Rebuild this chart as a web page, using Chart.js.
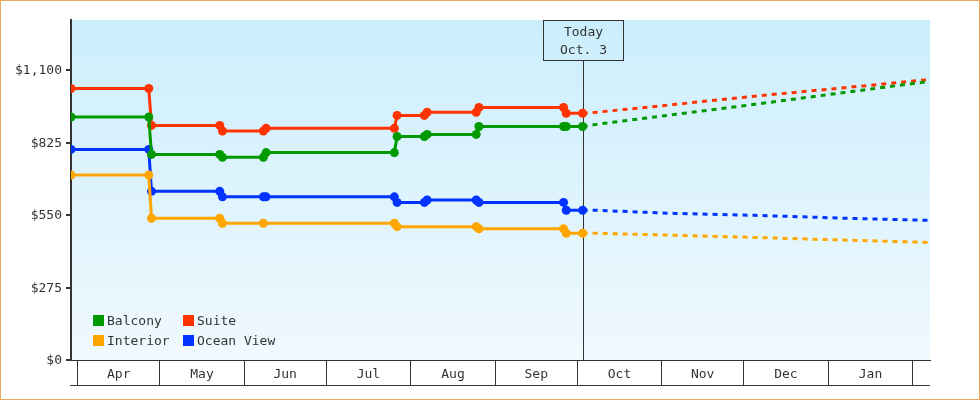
<!DOCTYPE html>
<html>
<head>
<meta charset="utf-8">
<title>Cabin fares</title>
<script src="https://cdn.jsdelivr.net/npm/chart.js@4.4.1/dist/chart.umd.min.js"></script>
<style>
html, body { margin: 0; padding: 0; background: #fff; }
#wrap { width: 980px; height: 400px; }
</style>
</head>
<body>
<div id="wrap"><canvas id="fareChart" width="980" height="400"></canvas></div>
<script>
// x values are days counted from Apr 1
var monthNames = ['Apr', 'May', 'Jun', 'Jul', 'Aug', 'Sep', 'Oct', 'Nov', 'Dec', 'Jan'];
var monthStarts = [0, 30, 61, 91, 122, 153, 183, 214, 244, 275, 306];
var yTicks = [0, 275, 550, 825, 1100];
var today = 185;
var todayLabel = ['Today', 'Oct. 3'];

// price history (solid part)
var balconyDays   = [-2.5, 26, 27, 52, 53, 68, 69, 116, 117, 127, 128, 146, 147, 178, 179, 185];
var balconyPrices = [922, 922, 780, 780, 769, 769, 787, 787, 848, 848, 856, 856, 886, 886, 886, 886];

var suiteDays   = [-2.5, 26, 27, 52, 53, 68, 69, 116, 117, 127, 128, 146, 147, 178, 179, 185];
var suitePrices = [1030, 1030, 890, 890, 869, 869, 879, 879, 928, 928, 940, 940, 958, 958, 936, 936];

var interiorDays   = [-2.5, 26, 27, 52, 53, 68, 116, 117, 146, 147, 178, 179, 185];
var interiorPrices = [702, 702, 538, 538, 519, 519, 519, 506, 506, 498, 498, 481, 481];

var oceanDays   = [-2.5, 26, 27, 52, 53, 68, 69, 116, 117, 127, 128, 146, 147, 178, 179, 185];
var oceanPrices = [799, 799, 640, 640, 619, 619, 619, 619, 598, 598, 607, 607, 598, 598, 568, 568];

// forecast (dotted part)
var forecastDays     = [185, 190, 219, 248, 281, 312];
var balconyForecast  = [886, 894, 932, 970, 1015, 1057];
var suiteForecast    = [936, 940, 970, 1001, 1033, 1064];
var interiorForecast = [481, 481, 473, 465, 455, 446];
var oceanForecast    = [568, 568, 556, 549, 538, 530];

var xMin = -2.5, xMax = 312.3;

var monthCenters = [];
for (var i = 0; i < monthNames.length; i++) {
	monthCenters.push((monthStarts[i] + monthStarts[i + 1]) / 2);
}

function toPoints(days, vals) {
	var pts = [];
	for (var i = 0; i < days.length; i++) pts.push({ x: days[i], y: vals[i] });
	return pts;
}

function makeSet(label, color, days, vals, fvals) {
	return {
		label: label,
		data: toPoints(days, vals).concat(toPoints(forecastDays.slice(1), fvals.slice(1))),
		borderColor: color,
		backgroundColor: color,
		borderWidth: 3,
		tension: 0,
		pointBorderWidth: 0,
		pointHoverRadius: 0,
		pointRadius: function(ctx) { return ctx.raw && ctx.raw.x <= today ? 4.5 : 0; },
		segment: {
			borderDash: function(ctx) { return ctx.p0.parsed.x >= today ? [5, 5] : undefined; }
		}
	};
}

var font = "'DejaVu Sans Mono', monospace";
Chart.defaults.font.family = font;
Chart.defaults.font.size = 13;
Chart.defaults.color = '#333';

// gradient plot background + orange frame
var backdrop = {
	id: 'backdrop',
	beforeDraw: function(chart) {
		var ctx = chart.ctx, a = chart.chartArea;
		ctx.save();
		var g = ctx.createLinearGradient(0, a.top, 0, a.bottom);
		g.addColorStop(0, '#cbeefc');
		g.addColorStop(1, '#f0f9fe');
		ctx.fillStyle = g;
		ctx.fillRect(a.left, a.top, a.right - a.left, a.bottom - a.top);
		ctx.restore();
	},
	afterDraw: function(chart) {
		var ctx = chart.ctx, a = chart.chartArea;
		ctx.save();
		ctx.strokeStyle = '#333';
		ctx.lineWidth = 1;
		ctx.beginPath();
		ctx.moveTo(a.left - 1, a.bottom + 25.5);
		ctx.lineTo(a.right, a.bottom + 25.5);
		ctx.stroke();
		ctx.strokeStyle = '#e8a862';
		ctx.strokeRect(0.5, 0.5, chart.width - 1, chart.height - 1);
		ctx.restore();
	}
};

// "Today" line and box
var todayMarker = {
	id: 'todayMarker',
	beforeDatasetsDraw: function(chart) {
		var ctx = chart.ctx, a = chart.chartArea;
		var x = Math.round(chart.scales.x.getPixelForValue(today)) + 0.5;
		var boxW = 80, boxH = 40;
		ctx.save();
		ctx.strokeStyle = '#333';
		ctx.lineWidth = 1;
		ctx.beginPath();
		ctx.moveTo(x, a.top + boxH);
		ctx.lineTo(x, a.bottom);
		ctx.stroke();
		ctx.strokeRect(x - boxW / 2, a.top + 0.5, boxW, boxH);
		ctx.fillStyle = '#333';
		ctx.font = '13px ' + font;
		ctx.textAlign = 'center';
		ctx.textBaseline = 'middle';
		ctx.fillText(todayLabel[0], x, a.top + 13);
		ctx.fillText(todayLabel[1], x, a.top + 31);
		ctx.restore();
	}
};

// legend in the lower left of the plot, two columns
var legendBox = {
	id: 'legendBox',
	afterDraw: function(chart) {
		var ctx = chart.ctx, a = chart.chartArea;
		ctx.save();
		ctx.font = '13px ' + font;
		ctx.textBaseline = 'middle';
		chart.data.datasets.forEach(function(ds, i) {
			var x = a.left + 22 + (i % 2) * 90;
			var y = a.bottom - 45 + Math.floor(i / 2) * 20;
			ctx.fillStyle = ds.borderColor;
			ctx.fillRect(x, y, 11, 11);
			ctx.fillStyle = '#333';
			ctx.fillText(ds.label, x + 14, y + 6.5);
		});
		ctx.restore();
	}
};

var chart = new Chart(document.getElementById('fareChart').getContext('2d'), {
	type: 'line',
	data: {
		datasets: [
			makeSet('Balcony', '#009900', balconyDays, balconyPrices, balconyForecast),
			makeSet('Suite', '#ff3300', suiteDays, suitePrices, suiteForecast),
			makeSet('Interior', '#ffa500', interiorDays, interiorPrices, interiorForecast),
			makeSet('Ocean View', '#0033ff', oceanDays, oceanPrices, oceanForecast)
		]
	},
	options: {
		responsive: false,
		animation: false,
		layout: { padding: { left: 0, top: 20, right: 50, bottom: 0 } },
		plugins: {
			legend: { display: false },
			tooltip: { enabled: false }
		},
		scales: {
			x: {
				type: 'linear',
				min: xMin,
				max: xMax,
				afterBuildTicks: function(scale) {
					var t = monthStarts.concat(monthCenters).sort(function(a, b) { return a - b; });
					scale.ticks = t.map(function(v) { return { value: v }; });
				},
				afterFit: function(scale) { scale.height = 40; },
				border: { display: true, color: '#333', width: 1 },
				grid: {
					drawOnChartArea: false,
					drawTicks: true,
					tickLength: 25,
					lineWidth: 1,
					color: function(ctx) {
						return ctx.tick && monthStarts.indexOf(ctx.tick.value) >= 0 ? '#333' : 'rgba(0,0,0,0)';
					}
				},
				ticks: {
					autoSkip: false,
					maxRotation: 0,
					padding: -18,
					color: '#333',
					callback: function(value) {
						var i = monthCenters.indexOf(value);
						return i >= 0 ? monthNames[i] : '';
					}
				}
			},
			y: {
				min: 0,
				max: 1290,
				afterBuildTicks: function(scale) {
					scale.ticks = yTicks.map(function(v) { return { value: v }; });
				},
				afterFit: function(scale) { scale.width = 71; },
				border: { display: true, color: '#333', width: 2 },
				grid: {
					drawOnChartArea: false,
					drawTicks: true,
					tickLength: 5,
					lineWidth: 2,
					color: '#333'
				},
				ticks: {
					padding: 4,
					labelOffset: 1,
					color: '#333',
					callback: function(value) { return '$' + value.toLocaleString('en-US'); }
				}
			}
		}
	},
	plugins: [backdrop, todayMarker, legendBox]
});
</script>
</body>
</html>
